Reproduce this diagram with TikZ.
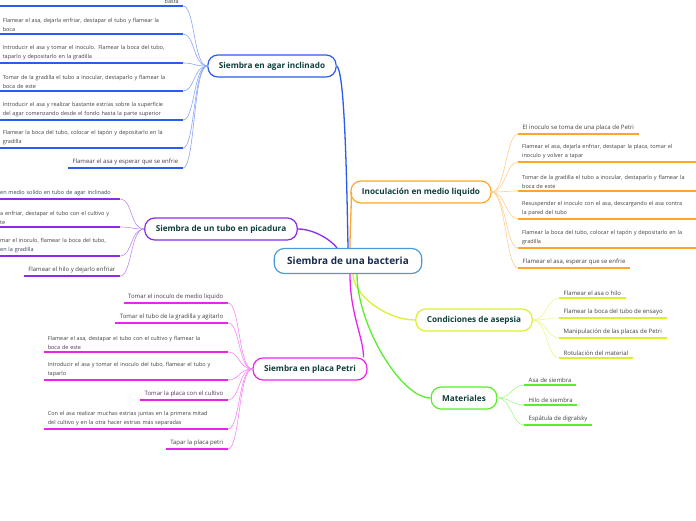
\documentclass[tikz,border=0pt]{standalone}
\usepackage{fontspec}
\setmainfont{Open Sans}

\definecolor{agarc}{HTML}{2B5BF0}
\definecolor{picc}{HTML}{8A2BE8}
\definecolor{petric}{HTML}{EE22EE}
\definecolor{inocc}{HTML}{FFA52A}
\definecolor{condc}{HTML}{DCF02E}
\definecolor{matc}{HTML}{5AEE2A}
\definecolor{rootc}{HTML}{4A9AD8}
\definecolor{roottext}{HTML}{1A2B4C}
\definecolor{titlec}{HTML}{0E3E3A}
\definecolor{leafc}{HTML}{404040}

\tikzset{
  rootbox/.style={draw=rootc, line width=1.2pt, rounded corners=10pt, fill=white,
    minimum height=25pt, inner xsep=13pt, text=roottext,
    font=\fontsize{10}{12}\selectfont\bfseries},
  branch/.style={draw=#1, line width=1.2pt, rounded corners=10pt, fill=white,
    minimum height=22pt, inner xsep=11pt, text=titlec,
    font=\fontsize{8.2}{10}\selectfont\bfseries},
  leaf/.style={font=\fontsize{5.5}{9}\selectfont, text=leafc, inner xsep=4pt,
    inner ysep=2.5pt, align=left},
  short/.style={leaf, font=\fontsize{6}{9}\selectfont, inner xsep=4.5pt},
  wide/.style={text width=#1},
  uline/.style={line width=1.6pt, #1},
  twig/.style={line width=0.6pt, #1!55},
  trunk/.style={line width=1.3pt, #1},
}

\begin{document}
\begin{tikzpicture}[x=1pt,y=-1pt]
  \useasboundingbox (0,0) rectangle (696,520);
  \clip (0,0) rectangle (696,520);
  % Central topic.
  \node[rootbox] (root) at (348,261) {Siembra de una bacteria};
  % Main topics.
  \node[branch=agarc] (agar) at (272,66) {Siembra en agar inclinado};
  \node[branch=picc] (pic) at (221,229) {Siembra de un tubo en picadura};
  \node[branch=petric] (petri) at (310,369) {Siembra en placa Petri};
  \node[branch=inocc] (inoc) at (421,192) {Inoculación en medio liquido};
  \node[branch=condc] (cond) at (474,320) {Condiciones de asepsia};
  \node[branch=matc] (mat) at (464,398) {Materiales};
  % Trunks to the central topic.
  \draw[trunk=agarc] (agar.east) .. controls +(6,4) and +(-2,-120) .. (root.north);
  \draw[trunk=picc] (pic.east) .. controls +(16,0) and +(-6,-8) .. ([xshift=-11pt]root.north);
  \draw[trunk=inocc] ([xshift=1pt]inoc.west) .. controls +(0,20) and +(0,-20) .. ([xshift=2pt]root.north);
  \draw[trunk=petric] ([xshift=2pt]root.south) .. controls +(0,40) and +(0,-20) .. ([xshift=-4pt]petri.north east);
  \draw[trunk=condc] ([xshift=5pt]root.south) .. controls +(0,20) and +(-30,0) .. (cond.west);
  \draw[trunk=matc] ([xshift=9pt]root.south) .. controls +(0,50) and +(-30,0) .. (mat.west);

  % Siembra en agar inclinado.
  \node[leaf, anchor=south east] (ag1) at (183,6) {basta};
  \node[leaf, wide=176pt, anchor=south east] (ag2) at (183,34) {Flamear el asa, dejarla enfriar, destapar el tubo y flamear la\\boca};
  \node[leaf, wide=176pt, anchor=south east] (ag3) at (183,63) {Introducir el asa y tomar el inoculo. Flamear la boca del tubo,\\taparlo y depositarlo en la gradilla};
  \node[leaf, wide=176pt, anchor=south east] (ag4) at (183,91) {Tomar de la gradilla el tubo a inocular, destaparlo y flamear la\\boca de este};
  \node[leaf, wide=176pt, anchor=south east] (ag5) at (183,120) {Introducir el asa y realizar bastante estrías sobre la superficie\\del agar comenzando desde el fondo hasta la parte superior};
  \node[leaf, wide=176pt, anchor=south east] (ag6) at (183,148) {Flamear la boca del tubo, colocar el tapón y depositarlo en la\\gradilla};
  \node[short, anchor=south east] (ag7) at (183,168) {Flamear el asa y esperar que se enfrie};
  \draw[uline=agarc] (0,6) -- (ag1.south east);
  \foreach \i in {2,...,7} \draw[uline=agarc] (ag\i.south west) -- (ag\i.south east);
  \foreach \i in {1,...,7}
    \draw[twig=agarc] (agar.west) .. controls +(-14,0) and +(12,0) .. (ag\i.south east);

  % Siembra de un tubo en picadura.
  \node[leaf, wide=116pt, anchor=south west] (pi1) at (-4,199) {en medio solido en tubo de agar inclinado};
  \node[leaf, wide=116pt, anchor=south west] (pi2) at (-4,227) {a enfriar, destapar el tubo con el cultivo y\\te};
  \node[leaf, wide=116pt, anchor=south west] (pi3) at (-4,256) {mar el inoculo, flamear la boca del tubo,\\en la gradilla};
  \node[short, anchor=south east] (pi4) at (120,276) {Flamear el hilo y dejarlo enfriar};
  \foreach \i in {1,...,4} {
    \draw[uline=picc] (pi\i.south west) -- (pi\i.south east);
    \draw[twig=picc] (pic.west) .. controls +(-14,0) and +(12,0) .. (pi\i.south east);
  }

  % Siembra en placa Petri.
  \node[short, anchor=south east] (pe1) at (228,303) {Tomar el inoculo de medio liquido};
  \node[short, anchor=south east] (pe2) at (228,323) {Tomar el tubo de la gradilla y agitarlo};
  \node[leaf, wide=176pt, anchor=south east] (pe3) at (228,352) {Flamear el asa, destapar el tubo con el cultivo y flamear la\\boca de este};
  \node[leaf, wide=176pt, anchor=south east] (pe4) at (228,380) {Introducir el asa y tomar el inoculo del tubo, flamear el tubo y\\taparlo};
  \node[short, anchor=south east] (pe5) at (228,400) {Tomar la placa con el cultivo};
  \node[leaf, wide=176pt, anchor=south east] (pe6) at (228,429) {Con el asa realizar muchas estrias juntas en la primera mitad\\del cultivo y en la otra hacer estrias más separadas};
  \node[short, anchor=south east] (pe7) at (228,449) {Tapar la placa petri};
  \foreach \i in {1,...,7} {
    \draw[uline=petric] (pe\i.south west) -- (pe\i.south east);
    \draw[twig=petric] (petri.west) .. controls +(-14,0) and +(12,0) .. (pe\i.south east);
  }

  % Inoculación en medio liquido.
  \node[short, anchor=south west] (in1) at (518,134) {El inoculo se toma de una placa de Petri};
  \node[leaf, wide=176pt, anchor=south west] (in2) at (518,162) {Flamear el asa, dejarla enfriar, destapar la placa, tomar el\\inoculo y volver a tapar};
  \node[leaf, wide=176pt, anchor=south west] (in3) at (518,191) {Tomar de la gradilla el tubo a inocular, destaparlo y flamear la\\boca de este};
  \node[leaf, wide=176pt, anchor=south west] (in4) at (518,219) {Resuspender el inoculo con el asa, descargando el asa contra\\la pared del tubo};
  \node[leaf, wide=176pt, anchor=south west] (in5) at (518,248) {Flamear la boca del tubo, colocar el tapón y depositarlo en la\\gradilla};
  \node[short, anchor=south west] (in6) at (518,268) {Flamear el asa, esperar que se enfrie};
  \foreach \i in {1,...,6} {
    \draw[uline=inocc] (in\i.south west) -- (in\i.south east);
    \draw[twig=inocc] (inoc.east) .. controls +(14,0) and +(-12,0) .. (in\i.south west);
  }

  % Condiciones de asepsia.
  \node[short, anchor=south west] (co1) at (559,298) {Flamear el asa o hilo};
  \node[short, anchor=south west] (co2) at (559,318) {Flamear la boca del tubo de ensayo};
  \node[short, anchor=south west] (co3) at (559,338) {Manipulación de las placas de Petri};
  \node[short, anchor=south west] (co4) at (559,358) {Rotulación del material};
  \foreach \i in {1,...,4} {
    \draw[uline=condc] (co\i.south west) -- (co\i.south east);
    \draw[twig=condc] (cond.east) .. controls +(14,0) and +(-12,0) .. (co\i.south west);
  }

  % Materiales.
  \node[short, anchor=south west] (ma1) at (524,385) {Asa de siembra};
  \node[short, anchor=south west] (ma2) at (524,405) {Hilo de siembra};
  \node[short, anchor=south west] (ma3) at (524,425) {Espátula de digralsky};
  \foreach \i in {1,...,3} {
    \draw[uline=matc] (ma\i.south west) -- (ma\i.south east);
    \draw[twig=matc] (mat.east) .. controls +(14,0) and +(-12,0) .. (ma\i.south west);
  }
\end{tikzpicture}
\end{document}
